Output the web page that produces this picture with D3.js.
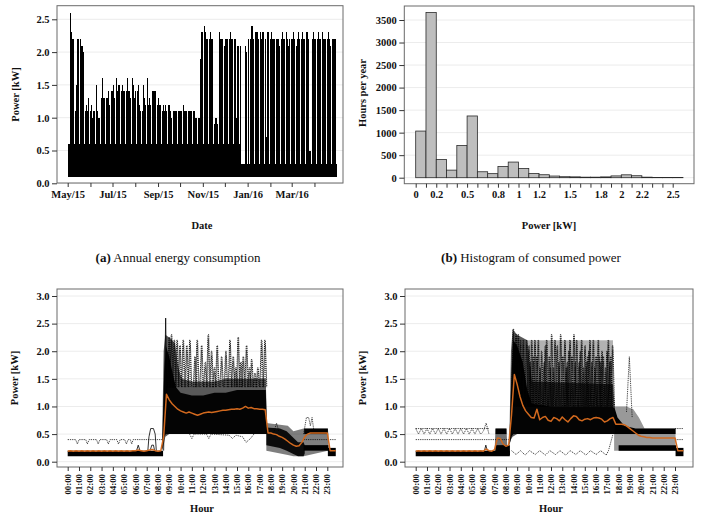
<!DOCTYPE html>
<html><head><meta charset="utf-8">
<script src="https://cdn.jsdelivr.net/npm/d3@7"></script>
<style>
body{margin:0;background:#fff;}
svg text{font-family:"Liberation Serif","Times New Roman",Times,serif;}
</style></head><body>
<svg id="chart" width="705" height="514" font-family="Liberation Serif, Times New Roman, serif"></svg>
<script>
// ---------------- DATA ----------------
// (a) daily peak power [kW], weeks Mon..Sun starting Mon 2015-04-27
const weekStart = new Date(2015, 3, 27);
const weeklyPeak = [
 [null,null,null,null,0.6,0.6,0.6],
 [2.6,2.3,2.2,2.2,2.2,0.6,0.6],
 [1.1,1.5,2.2,1.1,2.2,0.6,0.6],
 [2.2,2.1,2.1,2.0,1.1,0.6,0.6],
 [1.1,1.2,1.1,1.3,1.0,0.6,0.6],
 [1.1,1.2,1.0,1.1,1.1,0.6,0.6],
 [1.5,1.0,1.1,1.0,1.0,0.6,0.6],
 [1.3,1.2,1.6,1.3,1.3,0.6,0.6],
 [1.3,1.3,1.2,1.4,1.2,0.6,0.6],
 [1.4,1.4,1.5,1.4,1.3,0.6,0.6],
 [1.6,1.4,1.5,1.4,1.5,0.6,0.6],
 [1.4,1.5,1.4,1.4,1.3,0.6,0.6],
 [1.4,1.6,1.4,1.4,1.3,0.6,0.6],
 [1.6,1.4,1.5,1.3,1.4,0.6,0.6],
 [1.2,1.4,1.5,1.2,1.1,0.6,0.6],
 [1.1,1.5,1.1,1.3,1.2,0.6,0.6],
 [1.6,1.2,1.2,1.3,1.2,0.6,0.6],
 [1.4,1.4,1.3,1.4,1.4,0.6,0.6],
 [1.2,1.3,1.2,1.2,1.1,0.6,0.6],
 [1.1,1.2,1.1,1.2,1.1,0.6,0.6],
 [1.1,1.2,1.1,1.1,1.0,0.6,0.6],
 [1.1,1.1,1.1,1.1,1.1,0.6,0.6],
 [1.1,1.1,1.0,1.1,1.1,0.6,0.6],
 [1.2,1.1,1.1,1.0,1.1,0.6,0.6],
 [1.1,1.1,1.0,1.1,1.1,0.6,0.6],
 [1.1,1.0,1.0,1.0,1.0,0.6,0.6],
 [1.0,1.0,1.9,1.0,2.3,0.6,0.6],
 [2.4,2.2,2.3,2.2,2.2,0.6,0.6],
 [2.0,2.2,2.3,2.2,2.2,0.6,0.6],
 [0.9,0.9,1.0,1.0,0.9,0.6,0.6],
 [2.3,2.2,2.2,2.1,2.2,0.6,0.6],
 [2.1,2.2,2.2,2.1,2.2,0.6,0.6],
 [2.2,2.3,2.2,2.1,2.2,0.6,0.6],
 [2.2,2.1,1.0,2.0,2.1,0.6,0.6],
 [2.1,0.3,0.3,0.3,0.3,0.3,0.3],
 [2.1,2.0,1.9,0.3,2.2,0.3,0.3],
 [2.2,2.3,2.4,2.2,2.2,0.3,0.3],
 [2.3,2.2,2.3,2.1,2.2,0.3,0.3],
 [2.3,2.2,2.2,2.3,2.1,0.3,0.3],
 [2.2,0.7,2.2,2.3,2.2,0.3,0.3],
 [2.2,2.3,2.2,2.1,2.2,0.3,0.3],
 [2.1,2.2,2.2,2.2,2.1,0.3,0.3],
 [2.2,2.1,2.3,2.2,2.2,0.3,0.3],
 [2.3,2.2,0.7,2.1,2.2,0.3,0.3],
 [2.2,2.2,2.2,2.3,2.2,0.3,0.3],
 [2.1,2.2,2.3,2.2,2.2,0.3,0.3],
 [2.2,2.3,2.2,2.1,2.2,0.3,0.3],
 [2.3,2.2,2.2,0.5,0.5,0.3,0.3],
 [0.5,2.2,2.3,2.2,2.2,0.3,0.3],
 [2.1,2.2,2.3,2.2,2.2,0.3,0.3],
 [2.3,2.2,2.1,2.2,2.2,0.3,0.3],
 [2.2,2.3,2.2,2.2,2.1,0.3,0.3],
 [2.2,2.2,2.2,2.2,2.2,0.3,null]
];
const dailyFloor = 0.1;
const monthLabels = ["May/15","","Jul/15","","Sep/15","","Nov/15","","Jan/16","","Mar/16",""];
const powerTicksA = [0,0.5,1.0,1.5,2.0,2.5];

// (b) histogram
const binEdges = [0,0.1,0.2,0.3,0.4,0.5,0.6,0.7,0.8,0.9,1.0,1.1,1.2,1.3,1.4,1.5,1.6,1.7,1.8,1.9,2.0,2.1,2.2,2.3,2.4,2.5,2.6];
const histCounts = [1035,3665,405,168,716,1370,132,90,250,347,205,95,66,37,22,19,12,12,18,40,64,44,12,6,5,5];
const histTickVals = [0,0.1,0.2,0.3,0.4,0.5,0.6,0.7,0.8,0.9,1.0,1.1,1.2,1.3,1.4,1.5,1.6,1.7,1.8,1.9,2.0,2.1,2.2,2.3,2.4,2.5];
const histLabelVals = [0,0.2,0.5,0.8,1,1.2,1.5,1.8,2,2.2,2.5];
const histLabels = ["0","0.2","0.5","0.8","1","1.2","1.5","1.8","2","2.2","2.5"];
const hoursTicks = [0,500,1000,1500,2000,2500,3000,3500];

// (c),(d) daily profiles, 15-min mean
const hourLabels = ["00:00","01:00","02:00","03:00","04:00","05:00","06:00","07:00","08:00","09:00","10:00","11:00","12:00","13:00","14:00","15:00","16:00","17:00","18:00","19:00","20:00","21:00","22:00","23:00"];
const powerTicksC = [0,0.5,1.0,1.5,2.0,2.5,3.0];
const meanC = [0.19,0.2,0.19,0.2,0.19,0.2,0.19,0.2,0.19,0.2,0.19,0.2,0.19,0.2,0.19,0.2,0.19,0.2,0.19,0.2,0.19,0.2,0.19,0.2,
 0.2,0.21,0.2,0.19,0.2,0.21,0.22,0.2, 0.19,0.2,0.45,1.22, 1.12,1.05,1.0,0.95, 0.92,0.9,0.88,0.9, 0.88,0.86,0.84,0.86,
 0.88,0.89,0.9,0.89, 0.9,0.91,0.92,0.93, 0.93,0.94,0.95,0.95, 0.96,0.95,0.97,1.0, 0.97,0.98,0.96,0.96, 0.95,0.95,0.94,0.52,
 0.52,0.5,0.49,0.46, 0.44,0.41,0.37,0.33, 0.3,0.28,0.29,0.35, 0.45,0.5,0.52,0.52, 0.52,0.52,0.52,0.52, 0.52,0.2,0.2,0.2];
const meanD = [0.19,0.2,0.19,0.2,0.19,0.2,0.19,0.2,0.19,0.2,0.19,0.2,0.19,0.2,0.19,0.2,0.19,0.2,0.19,0.2,0.19,0.2,0.19,0.2,
 0.19,0.23,0.2,0.19,0.22,0.43,0.42,0.32, 0.28,0.3,0.85,1.58, 1.4,1.18,1.02,0.92, 0.86,0.8,0.79,0.95, 0.76,0.8,0.82,0.75,
 0.73,0.8,0.78,0.74, 0.81,0.76,0.72,0.78, 0.83,0.82,0.76,0.74, 0.77,0.78,0.76,0.79, 0.8,0.79,0.77,0.72, 0.74,0.78,0.8,0.68,
 0.68,0.68,0.67,0.64, 0.6,0.56,0.52,0.48, 0.46,0.45,0.44,0.44, 0.43,0.43,0.43,0.43, 0.43,0.43,0.43,0.43, 0.43,0.2,0.2,0.2];

// dense bands of overlapping profiles: [hour, low, high]
const nightBandC = [[0,0.1,0.2],[8.45,0.1,0.2]];
const lateBandC = [[23.05,0.1,0.25],[23.75,0.1,0.25]];
const dayHaloC = [[8.35,0.2,0.2],[8.5,0.3,2.0],[8.65,0.45,2.3],[9.0,0.5,2.25],[9.5,0.5,2.15],[9.8,0.5,1.7],[10.1,0.5,1.5],[11,0.5,1.45],[12,0.5,1.45],[13,0.5,1.45],[14,0.5,1.5],[15,0.5,1.5],[16,0.5,1.5],[17,0.5,1.5],[17.55,0.5,1.5],[17.65,0.5,0.65]];
const dayCoreC = [[8.35,0.2,0.2],[8.55,0.45,1.6],[8.7,0.5,2.1],[9.0,0.5,1.9],[9.3,0.5,1.6],[9.6,0.5,1.35],[10.0,0.5,1.25],[11.0,0.5,1.2],[12.0,0.5,1.2],[13.0,0.5,1.25],[14.0,0.5,1.25],[15.0,0.5,1.3],[16.0,0.5,1.3],[17.0,0.5,1.3],[17.55,0.5,1.3],[17.65,0.5,0.6]];
const eveHaloC = [[17.6,0.2,0.7],[19.5,0.12,0.65],[20.0,0.1,0.55],[20.9,0.1,0.6],[23.05,0.2,0.6],[23.1,0.2,0.5]];
const eveCoreC = [[17.6,0.3,0.62],[18.8,0.25,0.6],[19.4,0.2,0.55],[19.9,0.15,0.45],[20.4,0.1,0.35],[20.9,0.1,0.35],[21.0,0.15,0.3]];
const eveTopC = [[20.95,0.5,0.6],[23.05,0.5,0.6]];
const eveLowC = [[20.9,0.2,0.3],[23.1,0.2,0.3]];

const nightBandD = [[0,0.1,0.2],[8.35,0.1,0.2]];
const lateBandD = [[23.05,0.1,0.25],[23.75,0.1,0.25]];
const morningHaloD = [[7.0,0.12,0.2],[7.08,0.12,0.6],[8.05,0.12,0.6],[8.12,0.12,0.3],[8.35,0.12,0.3]];
const morningTopD = [[7.08,0.5,0.6],[8.05,0.5,0.6]];
const morningLowD = [[7.08,0.12,0.3],[8.35,0.12,0.3]];
const dayStripeD = [[9.9,1.0,2.2],[17.5,1.0,2.2]];
const dayHaloD = [[8.3,0.3,0.3],[8.45,0.4,2.0],[8.6,0.45,2.4],[9.0,0.5,2.3],[9.9,0.5,2.2],[10.3,0.5,1.45],[17.5,0.5,1.4],[17.65,0.5,1.0]];
const dayCoreD = [[8.3,0.3,0.3],[8.5,0.45,1.6],[8.65,0.5,2.2],[9.0,0.5,2.1],[9.5,0.5,1.8],[9.9,0.5,1.3],[10.3,0.5,1.05],[12,0.5,1.0],[15,0.5,1.0],[17.5,0.5,1.0],[17.65,0.5,0.95]];
const eveHaloD = [[17.6,0.2,1.0],[18.7,0.2,1.0],[19.3,0.2,0.95],[19.8,0.2,0.8],[20.3,0.2,0.6],[23.05,0.2,0.6]];
const eveTopD = [[17.6,0.5,1.0],[17.9,0.5,0.8],[18.5,0.5,0.65],[19.5,0.5,0.6],[23.05,0.5,0.6]];
const eveLowD = [[18.0,0.2,0.3],[23.1,0.2,0.3]];

// spikes of individual days: [hour, peak kW]
const spikesC = [[9.0,2.25],[9.2,2.3],[9.45,2.2],[9.7,2.2],[9.95,2.1],[10.24,2.2],[10.55,2.1],[10.83,2.2],[11.28,1.9],[11.48,2.2],[11.87,2.1],[12.2,1.8],[12.46,2.3],[12.75,2.0],[13.0,1.7],[13.25,2.1],[13.64,1.9],[14.02,2.0],[14.38,2.2],[14.67,1.9],[14.9,1.7],[15.11,2.25],[15.35,1.8],[15.56,1.9],[15.85,2.1],[16.1,1.7],[16.3,1.85],[16.59,1.6],[16.85,1.7],[17.18,2.2],[17.48,2.2]];
const spikesD = [[8.66,2.4],[8.9,2.3],[9.1,2.3],[9.3,2.2],[9.55,2.2],[9.84,2.2],[10.05,2.1],[10.18,1.8],[10.29,2.2],[10.45,1.9],[10.58,2.2],[10.75,1.9],[10.88,2.2],[11.03,1.7],[11.17,2.0],[11.4,1.8],[11.5,2.1],[11.62,2.2],[11.85,1.9],[11.95,1.7],[12.06,2.3],[12.22,1.7],[12.36,2.2],[12.56,2.1],[12.7,1.8],[12.86,2.3],[13.05,1.9],[13.24,2.2],[13.35,1.7],[13.45,1.8],[13.58,2.0],[13.69,2.2],[13.86,1.9],[14.04,2.3],[14.16,1.8],[14.28,2.2],[14.5,1.8],[14.6,2.0],[14.72,2.2],[14.88,1.7],[15.02,2.1],[15.14,1.8],[15.25,1.9],[15.36,2.0],[15.46,2.2],[15.62,1.8],[15.76,2.2],[15.9,1.7],[16.0,1.9],[16.2,2.2],[16.3,1.9],[16.42,1.8],[16.53,2.0],[16.64,1.9],[16.85,1.7],[16.97,2.0],[17.09,2.2],[17.2,1.8],[17.3,1.9],[17.47,2.1]];

// single outlying profiles: [hour, kW]
const nightLineC = [[0,0.4],[0.7,0.4],[0.86,0.32],[1.0,0.4],[1.6,0.4],[1.74,0.32],[1.9,0.4],[2.55,0.4],[2.7,0.32],[2.85,0.4],[3.45,0.4],[3.6,0.32],[3.75,0.4],[4.35,0.4],[4.5,0.32],[4.65,0.4],[5.05,0.4],[5.2,0.32],[5.35,0.4],[5.55,0.4],[5.67,0.32],[5.8,0.4],[8.4,0.4]];
const lateLineC = [[20.9,0.4],[23.75,0.4]];
const lowLineC = [[10.8,0.5],[11.0,0.42],[11.2,0.5],[12.3,0.5],[12.5,0.42],[12.7,0.5],[14.3,0.48],[14.6,0.42],[14.9,0.48],[15.5,0.45],[15.8,0.35],[16.2,0.42],[16.5,0.5]];
const eveHumpC = [[20.9,0.5],[21.15,0.8],[21.35,0.8],[21.5,0.65],[21.65,0.8],[21.85,0.5]];
const eveBlipC = [[18.3,0.55],[18.5,0.7],[18.7,0.55]];
const humpC = [[7.1,0.2],[7.2,0.45],[7.35,0.6],[7.6,0.6],[7.75,0.5],[7.85,0.2]];
const humpC2 = [[7.3,0.2],[7.45,0.3],[7.6,0.3],[7.7,0.2]];
const bumpC = [[6.1,0.2],[6.25,0.3],[6.4,0.2]];
const peakC = [[8.5,0.2],[8.68,2.6],[8.8,1.0]];

const nightTopD = [[0,0.6],[6.5,0.6]];
const nightZigD = [[0,0.6],[0.25,0.5],[0.5,0.6],[0.75,0.5],[1.0,0.6],[1.25,0.5],[1.5,0.6],[1.75,0.5],[2.0,0.6],[2.25,0.5],[2.5,0.6],[2.75,0.5],[3.0,0.6],[3.25,0.5],[3.5,0.6],[3.75,0.5],[4.0,0.6],[4.25,0.5],[4.5,0.6],[4.75,0.5],[5.0,0.6],[5.25,0.5],[5.5,0.6],[5.75,0.5],[6.0,0.55],[6.25,0.7],[6.5,0.5]];
const nightLineD = [[0,0.4],[8.3,0.4]];
const bumpD = [[6.1,0.2],[6.22,0.3],[6.35,0.2]];
const dayLowD = [[8.5,0.2],[8.9,0.13],[9.3,0.2],[9.7,0.12],[10.1,0.2],[10.6,0.13],[11.0,0.2],[11.5,0.12],[11.9,0.2],[12.4,0.13],[12.8,0.2],[13.3,0.12],[13.7,0.2],[14.2,0.13],[14.6,0.2],[15.1,0.12],[15.5,0.2],[16.0,0.13],[16.4,0.2],[16.9,0.12],[17.1,0.2],[17.5,0.5]];
const eveSpikeD = [[18.7,0.9],[18.95,1.9],[19.2,0.8]];
const lateTopD = [[23.0,0.6],[23.75,0.6]];
const lateLineD = [[23.0,0.4],[23.75,0.4]];

// ---------------- DRAWING ----------------
const svg = d3.select("#chart");
const TXT = "#111";
const FS = 10.5;
const SERIF = '"Liberation Serif","Times New Roman",serif';

function frame(x0, x1, y0, y1) {
  svg.append("rect").attr("x", x0).attr("y", y0).attr("width", x1 - x0).attr("height", y1 - y0)
    .attr("fill", "none").attr("stroke", "#6a6a6a").attr("stroke-width", 1);
}
function grid(y, vals, x0, x1) {
  svg.append("g").selectAll("line").data(vals).join("line")
    .attr("x1", x0).attr("x2", x1).attr("y1", d => y(d)).attr("y2", d => y(d))
    .attr("stroke", "#ececec").attr("stroke-width", 1);
}
function styleAxis(g) {
  g.attr("font-family", null);
  g.select(".domain").remove();
  g.selectAll("line").attr("stroke", "#333");
  g.selectAll("text").attr("font-weight", "bold").attr("font-size", FS).attr("fill", TXT)
    .style("font-family", SERIF);
}
function yAxis(y, vals, fmt, xPos) {
  const g = svg.append("g").attr("transform", `translate(${xPos},0)`)
    .call(d3.axisLeft(y).tickValues(vals).tickFormat(fmt).tickSize(5).tickPadding(2.5));
  styleAxis(g);
  return g;
}
function label(x, y, txt, rot, size, weight) {
  const t = svg.append("text").attr("text-anchor", "middle").attr("font-size", size || FS)
    .attr("font-weight", weight || "bold").attr("fill", TXT);
  if (rot) t.attr("transform", `translate(${x},${y}) rotate(-90)`).attr("dy", "0.35em");
  else t.attr("x", x).attr("y", y);
  t.text(txt);
  return t;
}
function clip(id, x0, x1, y0, y1) {
  svg.append("clipPath").attr("id", id).append("rect")
    .attr("x", x0).attr("y", y0).attr("width", x1 - x0).attr("height", y1 - y0);
}

// ===== (a) Annual energy consumption =====
{
  const fx0 = 57, fx1 = 343, fy0 = 5.7, fy1 = 183;
  const x = d3.scaleTime().domain([new Date(2015, 4, 1), new Date(2016, 4, 1)]).range([67.7, 336.5]);
  const y = d3.scaleLinear().domain([0, 2.5]).range([183.3, 19.3]);
  grid(y, powerTicksA, fx0, fx1);
  const days = [];
  weeklyPeak.forEach((wk, r) => wk.forEach((v, c) => {
    if (v !== null) days.push({ date: d3.timeDay.offset(weekStart, r * 7 + c), v });
  }));
  svg.append("g").attr("shape-rendering", "crispEdges").selectAll("rect").data(days).join("rect")
    .attr("x", d => x(d.date))
    .attr("width", d => x(d3.timeDay.offset(d.date, 1)) - x(d.date) + 0.5)
    .attr("y", d => y(d.v))
    .attr("height", d => y(dailyFloor) - y(d.v))
    .attr("fill", "#000");
  frame(fx0, fx1, fy0, fy1);
  yAxis(y, powerTicksA, d3.format(".1f"), fx0);
  const months = d3.timeMonth.range(new Date(2015, 4, 1), new Date(2016, 4, 1));
  const gx = svg.append("g").attr("transform", `translate(0,${fy1})`)
    .call(d3.axisBottom(x).tickValues(months).tickFormat((d, i) => monthLabels[i]).tickSize(4).tickPadding(3.5));
  styleAxis(gx);
  label(15, 94.5, "Power [kW]", true);
  label(202, 229, "Date");
  const cap = svg.append("text").attr("x", 178).attr("y", 261.5).attr("text-anchor", "middle")
    .attr("font-size", 13).attr("fill", TXT);
  cap.append("tspan").attr("font-weight", "bold").text("(a)");
  cap.append("tspan").text(" Annual energy consumption");
}

// ===== (b) Histogram =====
{
  const fx0 = 404.3, fx1 = 694, fy0 = 6, fy1 = 183.7;
  const x = d3.scaleLinear().domain([0, 2.5]).range([415.7, 672.7]);
  const y = d3.scaleLinear().domain([0, 3500]).range([177.7, 20]);
  grid(y, hoursTicks, fx0, fx1);
  svg.append("g").selectAll("rect").data(histCounts).join("rect")
    .attr("x", (d, i) => x(binEdges[i]))
    .attr("width", (d, i) => x(binEdges[i + 1]) - x(binEdges[i]))
    .attr("y", d => y(d))
    .attr("height", d => y(0) - y(d))
    .attr("fill", "#bebebe").attr("stroke", "#2a2a2a").attr("stroke-width", 0.8);
  frame(fx0, fx1, fy0, fy1);
  yAxis(y, hoursTicks, d3.format("d"), fx0);
  const gx = svg.append("g").attr("transform", `translate(0,${fy1})`)
    .call(d3.axisBottom(x).tickValues(histTickVals).tickFormat(d => {
      const k = histLabelVals.findIndex(v => Math.abs(v - d) < 1e-6);
      return k >= 0 ? histLabels[k] : "";
    }).tickSize(4).tickPadding(3.3));
  styleAxis(gx);
  label(362.3, 93, "Hours per year", true);
  label(549, 229, "Power [kW]");
  const cap = svg.append("text").attr("x", 531).attr("y", 261.5).attr("text-anchor", "middle")
    .attr("font-size", 13).attr("fill", TXT);
  cap.append("tspan").attr("font-weight", "bold").text("(b)");
  cap.append("tspan").text(" Histogram of consumed power");
}

// ===== (c),(d) daily profiles =====
function profilePanel(cfg) {
  const { fx0, fx1, x0, x23, id } = cfg;
  const fy0 = 289, fy1 = 467;
  const x = d3.scaleLinear().domain([0, 23]).range([x0, x23]);
  const y = d3.scaleLinear().domain([0, 3]).range([461.7, 296]);
  grid(y, powerTicksC, fx0, fx1);
  clip(id, fx0, fx1, fy0, fy1);
  const g = svg.append("g").attr("clip-path", `url(#${id})`);
  const area = d3.area().x(d => x(d[0])).y0(d => y(d[1])).y1(d => y(d[2]));
  const line = d3.line().x(d => x(d[0])).y(d => y(d[1]));
  cfg.bands.forEach(([data, op]) => {
    g.append("path").datum(data).attr("d", area).attr("fill", "#000").attr("fill-opacity", op);
  });
  cfg.dotted.forEach(data => {
    g.append("path").datum(data).attr("d", line).attr("fill", "none").attr("stroke", "#000")
      .attr("stroke-width", 0.7).attr("stroke-dasharray", "1.3,0.9");
  });
  cfg.solid.forEach(data => {
    g.append("path").datum(data).attr("d", line).attr("fill", "none").attr("stroke", "#000")
      .attr("stroke-width", 0.8);
  });
  cfg.spikes.forEach(([t, p]) => {
    const b = cfg.spikeBase;
    g.append("path").datum([[t - 0.16, b], [t - 0.03, p], [t + 0.03, p], [t + 0.16, b]]).attr("d", line)
      .attr("fill", "none").attr("stroke", "#000").attr("stroke-width", 0.85).attr("stroke-dasharray", "1.3,0.8");
    g.append("path").datum([[t - 0.08, b], [t, p - 0.08], [t + 0.08, b]]).attr("d", line)
      .attr("fill", "none").attr("stroke", "#000").attr("stroke-width", 0.65).attr("stroke-dasharray", "1,1");
  });
  g.append("path").datum(cfg.mean).attr("d", d3.line().x((d, i) => x(i * 0.25)).y(d => y(d)))
    .attr("fill", "none").attr("stroke", "#d2691e").attr("stroke-width", 1.5).attr("stroke-linejoin", "round");
  frame(fx0, fx1, fy0, fy1);
  yAxis(y, powerTicksC, d3.format(".1f"), fx0);
  const hours = d3.range(24);
  const gx = svg.append("g").attr("transform", `translate(0,${fy1})`)
    .call(d3.axisBottom(x).tickValues(hours).tickFormat("").tickSize(4));
  styleAxis(gx);
  svg.append("g").selectAll("text").data(hourLabels).join("text")
    .attr("transform", (d, i) => `translate(${x(i)},474) rotate(-90)`)
    .attr("dy", "0.35em").attr("text-anchor", "end")
    .attr("font-size", 8.8).attr("font-weight", "bold").attr("fill", TXT).text(d => d);
  label(cfg.ylabX, 378, "Power [kW]", true);
  label((fx0 + fx1) / 2 + 2, 512, "Hour");
}

profilePanel({
  id: "clipC", fx0: 57, fx1: 343, x0: 67.7, x23: 327.3, ylabX: 14,
  bands: [[nightBandC, 1], [lateBandC, 1], [dayHaloC, 0.65], [dayCoreC, 0.95], [eveHaloC, 0.5], [eveCoreC, 0.9], [eveTopC, 1], [eveLowC, 1]],
  dotted: [nightLineC, lateLineC, lowLineC, eveHumpC, eveBlipC],
  solid: [humpC, humpC2, bumpC, peakC],
  spikes: spikesC, spikeBase: 1.35, mean: meanC
});
profilePanel({
  id: "clipD", fx0: 405, fx1: 693, x0: 415.7, x23: 675, ylabX: 362,
  bands: [[nightBandD, 1], [lateBandD, 1], [morningHaloD, 0.55], [morningTopD, 1], [morningLowD, 1], [dayStripeD, 0.3], [dayHaloD, 0.65], [dayCoreD, 0.95], [eveHaloD, 0.4], [eveTopD, 1], [eveLowD, 1]],
  dotted: [nightTopD, nightZigD, nightLineD, dayLowD, eveSpikeD, lateTopD, lateLineD],
  solid: [bumpD],
  spikes: spikesD, spikeBase: 1.0, mean: meanD
});
</script></body></html>
